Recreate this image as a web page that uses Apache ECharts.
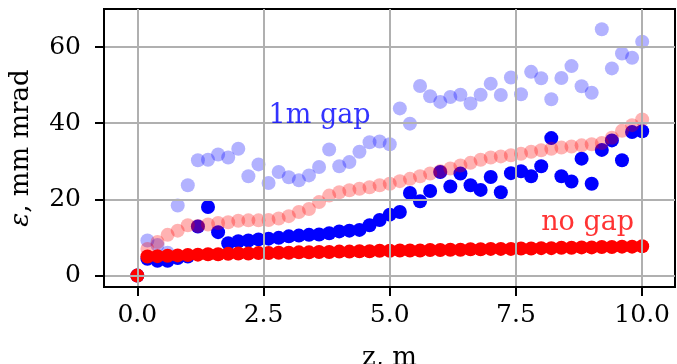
<!DOCTYPE html>
<html>
<head>
<meta charset="utf-8">
<script src="https://cdn.jsdelivr.net/npm/echarts@6/dist/echarts.min.js"></script>
<style>
    html, body { margin: 0; padding: 0; background: #fff; }
    #chart { width: 677px; height: 364px; }
</style>
</head>
<body>
<div id="chart"></div>
<script>
// positions along the line, m
const zValues = [
    0, 0.2, 0.4, 0.6, 0.8, 1.0, 1.2, 1.4, 1.6, 1.8,
    2.0, 2.2, 2.4, 2.6, 2.8, 3.0, 3.2, 3.4, 3.6, 3.8,
    4.0, 4.2, 4.4, 4.6, 4.8, 5.0, 5.2, 5.4, 5.6, 5.8,
    6.0, 6.2, 6.4, 6.6, 6.8, 7.0, 7.2, 7.4, 7.6, 7.8,
    8.0, 8.2, 8.4, 8.6, 8.8, 9.0, 9.2, 9.4, 9.6, 9.8, 10.0
];

// emittance, mm mrad
const gapSolid = [
    0, 4.4, 3.9, 3.9, 4.6, 5.0, 12.9, 18.0, 11.4, 8.5,
    9.0, 9.2, 9.5, 9.7, 9.9, 10.3, 10.5, 10.7, 10.8, 11.1,
    11.6, 11.8, 12.0, 13.2, 14.6, 16.0, 16.7, 21.7, 19.5, 22.2,
    27.2, 23.4, 26.8, 23.7, 22.5, 25.9, 21.9, 26.9, 27.4, 26.1,
    28.7, 36.1, 26.1, 24.7, 30.7, 24.1, 33.0, 35.5, 30.3, 37.7, 37.9
];
const gapLight = [
    0, 9.2, 8.0, 6.0, 18.4, 23.7, 30.3, 30.4, 31.8, 31.0,
    33.3, 26.1, 29.2, 24.3, 27.2, 25.8, 25.0, 26.3, 28.5, 33.1,
    28.7, 29.8, 32.5, 35.0, 35.2, 34.5, 43.9, 39.9, 49.8, 47.1,
    45.6, 46.9, 47.5, 45.2, 47.5, 50.4, 47.4, 52.0, 47.6, 53.5,
    51.8, 46.3, 51.9, 55.0, 49.7, 48.0, 64.7, 54.4, 58.3, 57.2, 61.4
];
const noGapSolid = [
    0, 5.0, 5.1, 5.2, 5.3, 5.4, 5.5, 5.6, 5.6, 5.7,
    5.8, 5.8, 5.9, 5.9, 6.0, 6.0, 6.1, 6.1, 6.2, 6.2,
    6.3, 6.3, 6.4, 6.4, 6.5, 6.5, 6.6, 6.6, 6.6, 6.7,
    6.7, 6.8, 6.8, 6.9, 6.9, 7.0, 7.0, 7.0, 7.1, 7.1,
    7.2, 7.2, 7.3, 7.3, 7.4, 7.4, 7.5, 7.5, 7.6, 7.6, 7.7
];
const noGapLight = [
    0, 7.0, 8.8, 10.7, 11.8, 13.2, 13.0, 13.4, 13.8, 14.0,
    14.4, 14.5, 14.5, 14.6, 15.0, 15.6, 16.7, 17.5, 19.3, 21.0,
    21.9, 22.4, 22.8, 23.2, 23.7, 24.1, 24.8, 25.4, 26.1, 26.8,
    27.4, 28.1, 28.9, 29.6, 30.4, 31.0, 31.3, 31.6, 32.0, 32.5,
    32.9, 33.3, 33.6, 33.9, 34.2, 34.5, 34.8, 36.2, 38.0, 39.5, 41.0
];

const xTicks = [0, 2.5, 5, 7.5, 10];
const yTicks = [0, 20, 40, 60];

// text annotations: [z, eps, text, colour]
const notes = [
    [2.6, 40, '1m gap', '#0000ff'],
    [8.0, 12, 'no gap', '#ff0000']
];

const serif = 'DejaVu Serif';

function pairs(ys) {
    return zValues.map((z, i) => [z, ys[i]]);
}

function dots(name, ys, color) {
    return {
        name: name,
        type: 'scatter',
        data: pairs(ys),
        symbolSize: 14,
        itemStyle: { color: color, opacity: 1 },
        emphasis: { disabled: true },
        z: 2
    };
}

function noteSeries(note) {
    return {
        type: 'scatter',
        data: [[note[0], note[1]]],
        symbolSize: 0,
        silent: true,
        z: 4,
        label: {
            show: true,
            formatter: note[2],
            position: [0, 0],
            align: 'left',
            verticalAlign: 'middle',
            offset: [0, -7],
            fontFamily: serif,
            fontSize: 27,
            color: note[3]
        }
    };
}

let chart = echarts.init(document.getElementById('chart'), null, { renderer: 'canvas' });

chart.setOption({
    animation: false,
    backgroundColor: '#fff',
    grid: {
        left: 104,
        right: 2,
        top: 9,
        bottom: 77,
        outerBoundsMode: 'none',
        containLabel: false,
        show: true,
        borderColor: '#000',
        borderWidth: 2,
        backgroundColor: 'transparent'
    },
    xAxis: {
        type: 'value',
        min: -0.66,
        max: 10.65,
        z: 3,
        name: 'z, m',
        nameLocation: 'middle',
        nameGap: 58,
        nameTextStyle: { fontFamily: serif, fontSize: 26, color: '#000' },
        axisLine: { show: true, onZero: false, lineStyle: { color: '#000', width: 2 } },
        axisTick: {
            show: true,
            customValues: xTicks,
            length: 9,
            lineStyle: { color: '#000', width: 2 }
        },
        axisLabel: {
            customValues: xTicks,
            margin: 16,
            fontFamily: serif,
            fontSize: 25,
            color: '#000',
            formatter: v => v.toFixed(1)
        },
        splitLine: { show: true, lineStyle: { color: '#b0b0b0', width: 2 } }
    },
    yAxis: {
        type: 'value',
        min: -3.0,
        max: 70.0,
        z: 3,
        name: '{i|ε}, mm mrad',
        nameLocation: 'middle',
        nameGap: 70,
        nameTextStyle: {
            fontFamily: serif,
            fontSize: 26,
            color: '#000',
            rich: {
                i: { fontFamily: serif, fontSize: 26, fontStyle: 'italic', color: '#000' }
            }
        },
        axisLine: { show: true, onZero: false, lineStyle: { color: '#000', width: 2 } },
        axisTick: {
            show: true,
            customValues: yTicks,
            length: 9,
            lineStyle: { color: '#000', width: 2 }
        },
        axisLabel: {
            customValues: yTicks,
            margin: 23,
            fontFamily: serif,
            fontSize: 25,
            color: '#000'
        },
        splitLine: { show: true, lineStyle: { color: '#b0b0b0', width: 2 } }
    },
    series: [
        dots('1m gap', gapSolid, '#0000ff'),
        dots('1m gap, light', gapLight, 'rgba(0, 0, 255, 0.3)'),
        dots('no gap', noGapSolid, '#ff0000'),
        dots('no gap, light', noGapLight, 'rgba(255, 0, 0, 0.3)')
    ].concat(notes.map(noteSeries))
});
</script>
</body>
</html>
